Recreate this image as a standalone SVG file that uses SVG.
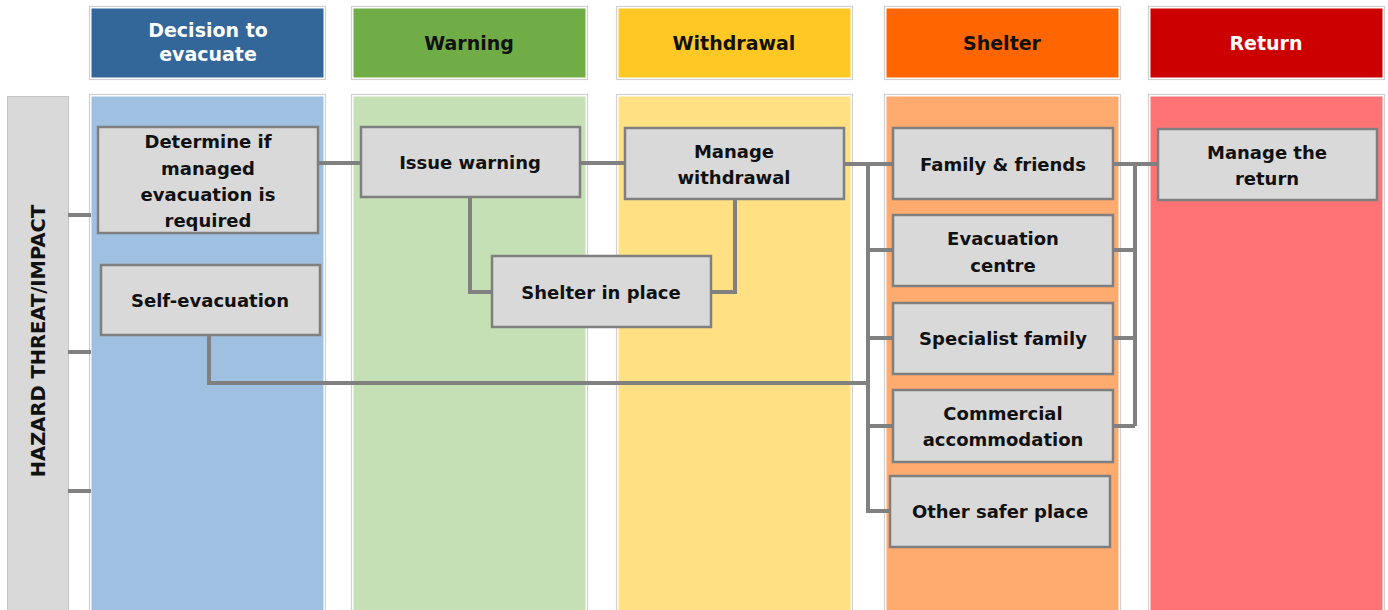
<svg xmlns="http://www.w3.org/2000/svg" width="1388" height="610" viewBox="0 0 1388 610">
<style>
.frame{fill:#ffffff;stroke:#d0d0d0;stroke-width:1.2}
.node rect{fill:#D9D9D9;stroke:#7F7F7F;stroke-width:2.5}
.node text,.lbl{font-family:"DejaVu Sans","Liberation Sans",sans-serif;font-weight:bold;font-size:18px;fill:#111;text-anchor:middle;dominant-baseline:central}
.hdr{font-family:"DejaVu Sans","Liberation Sans",sans-serif;font-weight:bold;font-size:19px;text-anchor:middle;dominant-baseline:central}
.conn path{fill:none;stroke:#808080;stroke-width:4;stroke-linejoin:miter}
</style>
<rect width="1388" height="610" fill="#ffffff"/>
<g id="headers">
<rect class="frame" x="89.5" y="6.5" width="236" height="73"/>
<rect x="91.5" y="8.5" width="232" height="69" fill="#336699"/>
<text class="hdr" x="208" y="30" fill="#ffffff">Decision to</text>
<text class="hdr" x="208" y="54" fill="#ffffff">evacuate</text>
<rect class="frame" x="351.5" y="6.5" width="236" height="73"/>
<rect x="353.5" y="8.5" width="232" height="69" fill="#70AD47"/>
<text class="hdr" x="469" y="43" fill="#111">Warning</text>
<rect class="frame" x="616.5" y="6.5" width="236" height="73"/>
<rect x="618.5" y="8.5" width="232" height="69" fill="#FFC825"/>
<text class="hdr" x="734" y="43" fill="#111">Withdrawal</text>
<rect class="frame" x="884.5" y="6.5" width="236" height="73"/>
<rect x="886.5" y="8.5" width="232" height="69" fill="#FF6600"/>
<text class="hdr" x="1002" y="43" fill="#111">Shelter</text>
<rect class="frame" x="1148.5" y="6.5" width="236" height="73"/>
<rect x="1150.5" y="8.5" width="232" height="69" fill="#CC0000"/>
<text class="hdr" x="1266" y="43" fill="#ffffff">Return</text>
</g>
<g id="columns">
<rect class="frame" x="89.5" y="94.5" width="236" height="520"/>
<rect x="91.5" y="96.5" width="232" height="520" fill="#9FC0E0"/>
<rect class="frame" x="351.5" y="94.5" width="236" height="520"/>
<rect x="353.5" y="96.5" width="232" height="520" fill="#C5E0B4"/>
<rect class="frame" x="616.5" y="94.5" width="236" height="520"/>
<rect x="618.5" y="96.5" width="232" height="520" fill="#FFE083"/>
<rect class="frame" x="884.5" y="94.5" width="236" height="520"/>
<rect x="886.5" y="96.5" width="232" height="520" fill="#FFAA6E"/>
<rect class="frame" x="1148.5" y="94.5" width="236" height="520"/>
<rect x="1150.5" y="96.5" width="232" height="520" fill="#FF7375"/>
</g>
<g id="hazard">
<rect x="7.5" y="96.5" width="61" height="520" fill="#D9D9D9" stroke="#c4c4c4" stroke-width="1"/>
<text transform="translate(38 341) rotate(-90)" font-family="DejaVu Sans, Liberation Sans, sans-serif" font-weight="bold" font-size="19.5" fill="#111" text-anchor="middle" dominant-baseline="central">HAZARD THREAT/IMPACT</text>
</g>
<g id="connectors" class="conn">
<path d="M68 215 H91"/>
<path d="M68 352 H91"/>
<path d="M68 491 H91"/>
<path d="M318 163 H361"/>
<path d="M470 197 V292 H492"/>
<path d="M580 163 H625"/>
<path d="M735 199 V292 H711"/>
<path d="M844 164 H893"/>
<path d="M868 164 V511 H890"/>
<path d="M868 250 H893"/>
<path d="M868 338 H893"/>
<path d="M868 426 H893"/>
<path d="M209 335 V383 H868"/>
<path d="M1113 164 H1158"/>
<path d="M1135 164 V426"/>
<path d="M1113 250 H1135"/>
<path d="M1113 338 H1135"/>
<path d="M1113 426 H1135"/>
</g>
<g id="determine" class="node">
<rect x="98" y="127" width="220" height="106"/>
<text x="208" y="141">Determine if</text>
<text x="208" y="168">managed</text>
<text x="208" y="194">evacuation is</text>
<text x="208" y="220">required</text>
</g>
<g id="self-evacuation" class="node">
<rect x="101" y="265" width="219" height="70"/>
<text x="210" y="300">Self-evacuation</text>
</g>
<g id="issue-warning" class="node">
<rect x="361" y="127" width="219" height="70"/>
<text x="470" y="162">Issue warning</text>
</g>
<g id="shelter-in-place" class="node">
<rect x="492" y="256" width="219" height="71"/>
<text x="601" y="292">Shelter in place</text>
</g>
<g id="manage-withdrawal" class="node">
<rect x="625" y="128" width="219" height="71"/>
<text x="734" y="151">Manage</text>
<text x="734" y="177">withdrawal</text>
</g>
<g id="family-friends" class="node">
<rect x="893" y="128" width="220" height="71"/>
<text x="1003" y="164">Family &amp; friends</text>
</g>
<g id="evacuation-centre" class="node">
<rect x="893" y="215" width="220" height="71"/>
<text x="1003" y="238">Evacuation</text>
<text x="1003" y="265">centre</text>
</g>
<g id="specialist-family" class="node">
<rect x="893" y="303" width="220" height="71"/>
<text x="1003" y="338">Specialist family</text>
</g>
<g id="commercial" class="node">
<rect x="893" y="390" width="220" height="72"/>
<text x="1003" y="413">Commercial</text>
<text x="1003" y="439">accommodation</text>
</g>
<g id="other-safer" class="node">
<rect x="890" y="476" width="220" height="71"/>
<text x="1000" y="511">Other safer place</text>
</g>
<g id="manage-return" class="node">
<rect x="1158" y="129" width="219" height="71"/>
<text x="1267" y="152">Manage the</text>
<text x="1267" y="178">return</text>
</g>
</svg>
